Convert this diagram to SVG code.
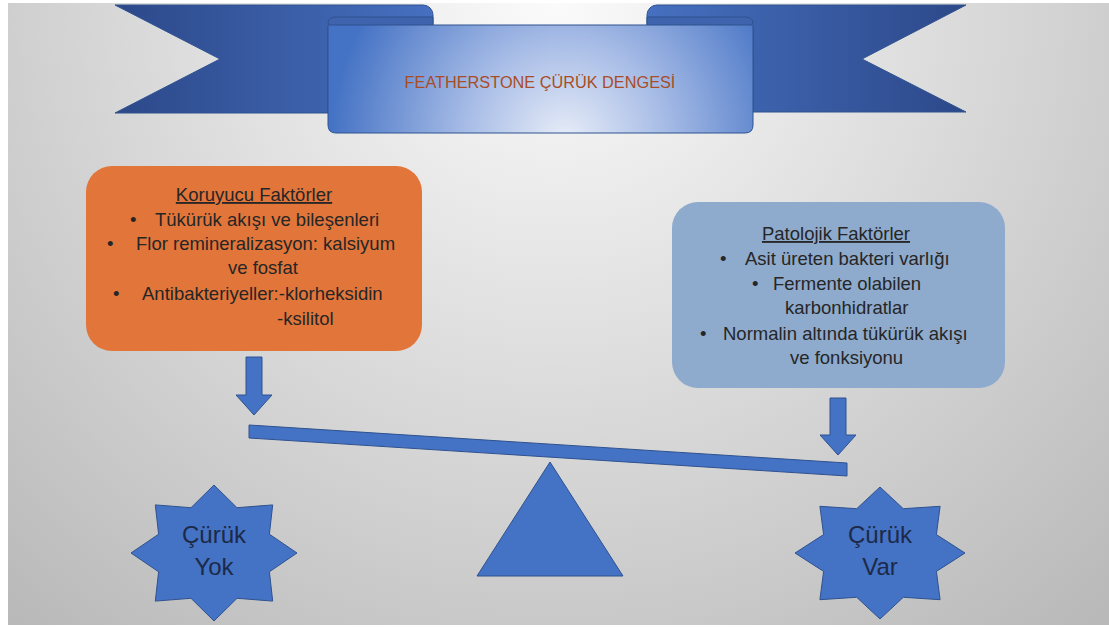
<svg xmlns="http://www.w3.org/2000/svg" width="1109" height="628" viewBox="0 0 1109 628">
  <defs>
    <radialGradient id="bg" gradientUnits="userSpaceOnUse" cx="555" cy="0" r="820">
      <stop offset="0" stop-color="#fbfbfb"/>
      <stop offset="1" stop-color="#b9b9b9"/>
    </radialGradient>
    <linearGradient id="tailL" gradientUnits="userSpaceOnUse" x1="115" y1="0" x2="433" y2="0">
      <stop offset="0" stop-color="#2c4889"/>
      <stop offset="1" stop-color="#4670c0"/>
    </linearGradient>
    <linearGradient id="tailR" gradientUnits="userSpaceOnUse" x1="647" y1="0" x2="966" y2="0">
      <stop offset="0" stop-color="#4670c0"/>
      <stop offset="1" stop-color="#2c4889"/>
    </linearGradient>
    <radialGradient id="panel" gradientUnits="userSpaceOnUse" cx="565" cy="140" r="235">
      <stop offset="0" stop-color="#e8edf8"/>
      <stop offset="0.45" stop-color="#a3b9e5"/>
      <stop offset="1" stop-color="#4472c4"/>
    </radialGradient>
    <style>
      .blue { fill: #4472c4; stroke: #2f528f; stroke-width: 1; }
      .ribbon { stroke: #2f528f; stroke-width: 1; }
      .roll { fill: #3f63ad; stroke: #2f528f; stroke-width: 1; }
      .body { font-family: "Liberation Sans", Arial, sans-serif; font-size: 18.5px; fill: #262626; }
      .title { text-decoration: underline; }
      .star { font-family: "Liberation Sans", Arial, sans-serif; font-size: 24px; fill: #1c2a48; text-anchor: middle; }
      .banner { font-family: "Liberation Sans", Arial, sans-serif; font-size: 16.3px; fill: #a84d27; text-anchor: middle; }
    </style>
  </defs>

  <rect x="0" y="0" width="1109" height="628" fill="#ffffff"/>
  <rect x="8" y="3" width="1101" height="622" fill="url(#bg)"/>

  <g id="banner">
    <path class="ribbon" fill="url(#tailL)" d="M115,5 H423 A10,10 0 0 1 433,15 V27 H328 V113 H115 L220,59 Z"/>
    <path class="ribbon" fill="url(#tailR)" d="M966,5 H657 A10,10 0 0 0 647,15 V27 H753 V112 H966 L862,59 Z"/>
    <path class="roll" d="M336,17 H433 V27 H336 A8,5 0 0 1 336,17 Z"/>
    <path class="roll" d="M745,17 H647 V27 H745 A8,5 0 0 0 745,17 Z"/>
    <path class="ribbon" fill="url(#panel)" d="M328,25 H753 V125 Q753,133 745,133 H336 Q328,133 328,125 Z"/>
    <text class="banner" x="540" y="88">FEATHERSTONE ÇÜRÜK DENGESİ</text>
  </g>

  <g id="koruyucu">
    <rect x="86" y="166" width="336" height="185" rx="26" fill="#e2753a"/>
    <text class="body title" x="254" y="201" text-anchor="middle">Koruyucu Faktörler</text>
    <text class="body" x="130" y="226">•</text>
    <text class="body" x="155" y="226">Tükürük akışı ve bileşenleri</text>
    <text class="body" x="107" y="250">•</text>
    <text class="body" x="136" y="250">Flor remineralizasyon: kalsiyum</text>
    <text class="body" x="228" y="274">ve fosfat</text>
    <text class="body" x="113" y="300">•</text>
    <text class="body" x="142" y="300">Antibakteriyeller:-klorheksidin</text>
    <text class="body" x="277" y="325">-ksilitol</text>
  </g>

  <g id="patolojik">
    <rect x="672" y="202" width="333" height="186" rx="26" fill="#8eaacc"/>
    <text class="body title" x="836" y="240" text-anchor="middle">Patolojik Faktörler</text>
    <text class="body" x="720" y="265">•</text>
    <text class="body" x="745" y="265">Asit üreten bakteri varlığı</text>
    <text class="body" x="752" y="290">•</text>
    <text class="body" x="773" y="290">Fermente olabilen</text>
    <text class="body" x="785" y="314">karbonhidratlar</text>
    <text class="body" x="700" y="340">•</text>
    <text class="body" x="723" y="340">Normalin altında tükürük akışı</text>
    <text class="body" x="790" y="364">ve fonksiyonu</text>
  </g>

  <g id="connectors">
    <path id="arrow-left" class="blue" d="M246,357 H262 V395 H272 L254,415 L236,395 H246 Z"/>
    <path id="arrow-right" class="blue" d="M830,398 H846 V435 H856 L838,455 L820,435 H830 Z"/>
  </g>

  <g id="beam">
    <path class="blue" d="M249,425 L847,463 L847,476 L249,438 Z"/>
  </g>

  <g id="fulcrum">
    <path class="blue" d="M550,462 L623,576 L477,576 Z"/>
  </g>

  <g id="curuk-yok">
    <path class="blue" d="M214,485 L237.0,507.7 L272.7,504.9 L269.4,534.2 L297,553 L269.4,571.8 L272.7,601.1 L237.0,598.3 L214,621 L191.0,598.3 L155.3,601.1 L158.6,571.8 L131,553 L158.6,534.2 L155.3,504.9 L191.0,507.7 Z"/>
    <text class="star" x="214" y="543">Çürük</text>
    <text class="star" x="214" y="575">Yok</text>
  </g>

  <g id="curuk-var">
    <path class="blue" d="M880,487 L903.3,508.7 L940.1,506.3 L936.4,534.6 L965,553 L936.4,571.4 L940.1,599.7 L903.3,597.3 L880,619 L856.7,597.3 L819.9,599.7 L823.6,571.4 L795,553 L823.6,534.6 L819.9,506.3 L856.7,508.7 Z"/>
    <text class="star" x="880" y="543">Çürük</text>
    <text class="star" x="880" y="575">Var</text>
  </g>
</svg>
